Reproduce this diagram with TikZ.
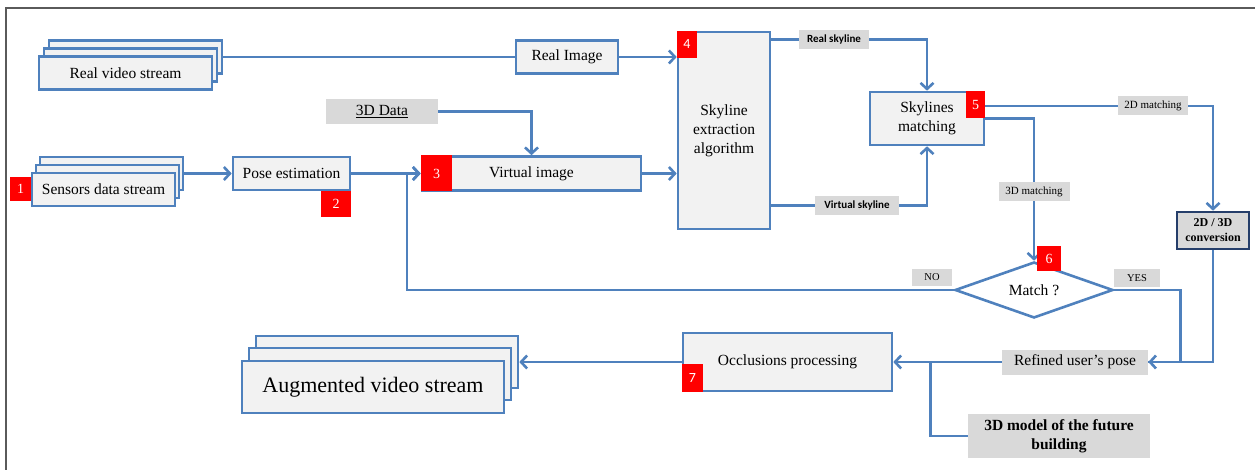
\documentclass[tikz,border=0pt]{standalone}
\usepackage{fontspec}
\setmainfont{Liberation Serif}
\newfontfamily\calibri{Carlito}
\usepackage{tikz}
\usetikzlibrary{positioning,arrows.meta,shapes.geometric,backgrounds}
\definecolor{flowblue}{RGB}{79,129,189}
\definecolor{boxfill}{RGB}{242,242,242}
\definecolor{tagfill}{RGB}{217,217,217}
\definecolor{badgered}{RGB}{255,0,0}
\definecolor{convnavy}{RGB}{37,62,106}
\definecolor{framegray}{RGB}{90,90,90}
\tikzset{
  proc/.style={draw=flowblue, fill=boxfill, line width=2.6pt, inner sep=0pt,
               align=center, font=\fontsize{15.5}{19}\selectfont},
  tagbox/.style={fill=tagfill, inner sep=0pt, align=center,
                 font=\fontsize{15.5}{19}\selectfont},
  mtag/.style={fill=tagfill, inner sep=0pt, font=\fontsize{11}{13}\selectfont},
  skytag/.style={mtag, font=\calibri\bfseries\fontsize{11}{13}\selectfont},
  badge/.style={fill=badgered, text=white, inner sep=0pt,
                font=\fontsize{14}{16}\selectfont},
  decision/.style={diamond, draw=flowblue, fill=white, line width=2.6pt,
                   aspect=2.76, inner sep=0pt, font=\fontsize{15.5}{19}\selectfont},
  link/.style={draw=flowblue, line width=2.6pt},
  edge/.style={link, -{Straight Barb[length=6pt,width=13pt]}},
  frame/.style={draw=framegray, line width=1.4pt}
}

\begin{document}
\begin{tikzpicture}[x=1pt,y=-1pt]
  \useasboundingbox (0,0) rectangle (1255,470);
  \draw[frame] (6,470) -- (6,8) -- (1255,8);

  % input streams
  \node[proc, minimum width=173pt, minimum height=33pt] (rvs3) at (135.5,57) {};
  \node[proc, minimum width=173pt, minimum height=33pt] (rvs2) at (130.5,65) {};
  \node[proc, minimum width=173pt, minimum height=33pt] (rvs) at (125.5,73) {Real video stream};
  \node[proc, minimum width=143pt, minimum height=33pt] (sds3) at (111.5,173.5) {};
  \node[proc, minimum width=143pt, minimum height=33pt] (sds2) at (107.5,181.5) {};
  \node[proc, minimum width=143pt, minimum height=33pt] (sds) at (103.5,189.5) {Sensors data stream};

  % processing boxes
  \node[proc, minimum width=117pt, minimum height=33pt] (pose) at (291.5,173.5) {Pose estimation};
  \node[tagbox, minimum width=112pt, minimum height=25pt] (data3d) at (382,111.5) {\underline{3D Data}};
  \node[proc, minimum width=219pt, minimum height=34pt] (virt) at (531.5,173.5) {Virtual image};
  \node[proc, minimum width=102pt, minimum height=33pt] (realimg) at (567,57) {Real Image};
  \node[proc, minimum width=92pt, minimum height=197pt] (sky) at (724,130.5)
       {Skyline\\extraction\\algorithm};
  \node[proc, minimum width=114pt, minimum height=53pt] (match) at (927,118.5)
       {Skylines\\matching};
  \node[proc, draw=convnavy, fill=tagfill, minimum width=72pt, minimum height=37pt,
        font=\bfseries\fontsize{12}{15}\selectfont] (conv) at (1213,230.5) {2D / 3D\\conversion};
  \node[decision, minimum width=158pt, minimum height=56pt] (dec) at (1034,290) {Match ?};
  \node[tagbox, minimum width=146pt, minimum height=25pt] (refined) at (1075,362) {Refined user’s pose};
  \node[proc, minimum width=209pt, minimum height=58pt] (occl) at (787.5,362) {Occlusions processing};
  \node[tagbox, minimum width=182pt, minimum height=44pt, font=\bfseries\fontsize{15.5}{19}\selectfont]
       (model3d) at (1059,436) {3D model of the future\\building};

  % output stream
  \node[proc, minimum width=262pt, minimum height=52pt] (avs3) at (387,362) {};
  \node[proc, minimum width=262pt, minimum height=52pt] (avs2) at (380,374) {};
  \node[proc, minimum width=262pt, minimum height=52pt, font=\fontsize{22}{26}\selectfont]
       (avs) at (373,387) {Augmented video stream};

  % connector labels
  \node[skytag, minimum width=70pt, minimum height=19pt] (rsky) at (834,39.5) {Real skyline};
  \node[skytag, minimum width=84pt, minimum height=19pt] (vsky) at (857,205.5) {Virtual skyline};
  \node[mtag, minimum width=70pt, minimum height=19pt] (m2d) at (1153,106) {2D matching};
  \node[mtag, minimum width=71pt, minimum height=19pt] (m3d) at (1034,191.5) {3D matching};
  \node[mtag, minimum width=40pt, minimum height=17pt, font=\fontsize{10.5}{12}\selectfont] (no) at (932,277.5) {NO};
  \node[mtag, minimum width=46pt, minimum height=18pt, font=\fontsize{10.5}{12}\selectfont] (yes) at (1137,278) {YES};
  \coordinate (loop) at (407,290);

  % step numbers
  \node[badge, minimum width=21pt, minimum height=24pt] (b1) at (20.5,189) {1};
  \node[badge, minimum width=30pt, minimum height=26pt] (b2) at (336,204) {2};
  \node[badge, minimum width=31pt, minimum height=36pt] (b3) at (436.5,173.5) {3};
  \node[badge, minimum width=20pt, minimum height=27pt, font=\calibri\fontsize{14}{16}\selectfont] (b4) at (687,44.5) {4};
  \node[badge, minimum width=19pt, minimum height=27pt] (b5) at (975.5,104.5) {5};
  \node[badge, minimum width=24pt, minimum height=25pt] (b6) at (1049,258.5) {6};
  \node[badge, minimum width=21pt, minimum height=28pt, font=\calibri\fontsize{14}{16}\selectfont] (b7) at (692.5,378) {7};

  \begin{scope}[on background layer]
    \draw[link] (rvs3.east) -- (realimg.west);
    \draw[edge] (realimg.east) -- (realimg.east -| sky.west);
    \draw[edge] (sds3.east) -- (pose.west);
    \draw[edge] (pose.east) -- (virt.west);
    \draw[edge] (data3d.east) -| (virt.north);
    \draw[edge] (virt.east) -- (virt.east -| sky.west);
    \draw[link] (sky.east |- rsky) -- (rsky.west);
    \draw[edge] (rsky.east) -| (match.north);
    \draw[link] (sky.east |- vsky) -- (vsky.west);
    \draw[edge] (vsky.east) -| (match.south);
    \draw[link] (match.east |- m2d) -- (m2d.west);
    \draw[edge] (m2d.east) -| (conv.north);
    \draw[edge] (match.east) -| (dec.north);
    \draw[edge] (dec.west) -- (loop) |- (virt.west);
    \draw[edge] (dec.east) -- ++(66,0) |- (refined.east);
    \draw[link] (conv.south) |- (refined.east);
    \draw[edge] (refined.west) -- (occl.east);
    \draw[link] (model3d.west) -| ([xshift=37pt]occl.east);
    \draw[edge] (occl.west) -- (avs3.east);
  \end{scope}
\end{tikzpicture}
\end{document}
